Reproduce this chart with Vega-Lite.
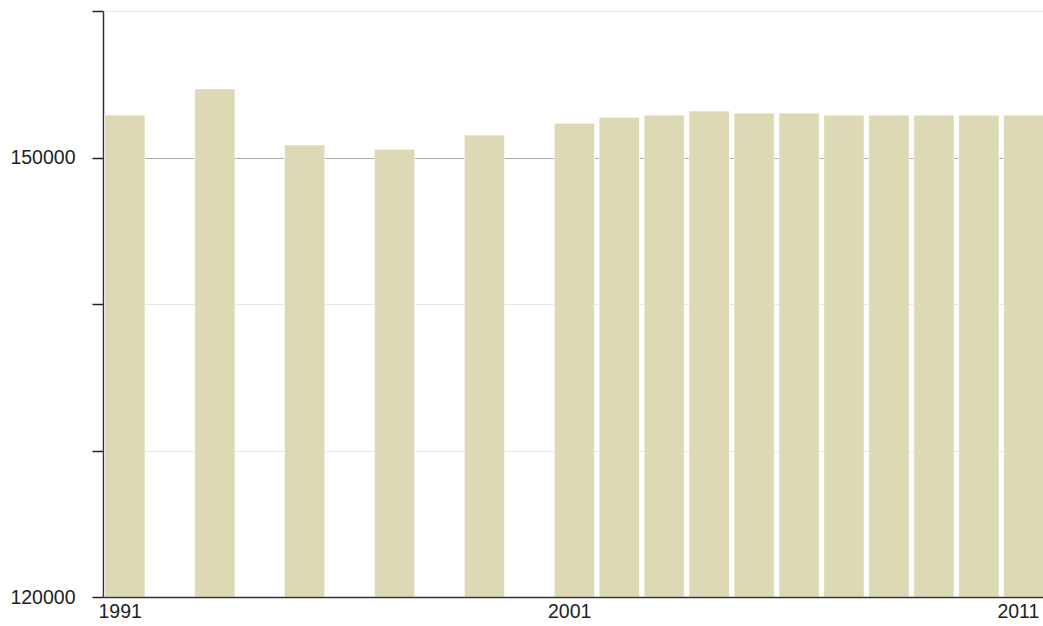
{
  "$schema": "https://vega.github.io/schema/vega-lite/v6.json",
  "autosize": {"type": "none"},
  "padding": {"left": 103, "top": 11, "right": 0, "bottom": 29},
  "width": 940,
  "height": 586,
  "background": "white",
  "config": {"view": {"stroke": null}, "font": "Liberation Sans"},
  "data": {
    "values": [
      {"year": "1991-01-01", "value": 152900},
      {"year": "1993-01-01", "value": 154680},
      {"year": "1995-01-01", "value": 150850},
      {"year": "1997-01-01", "value": 150570},
      {"year": "1999-01-01", "value": 151530},
      {"year": "2001-01-01", "value": 152340},
      {"year": "2002-01-01", "value": 152740},
      {"year": "2003-01-01", "value": 152890},
      {"year": "2004-01-01", "value": 153170},
      {"year": "2005-01-01", "value": 153030},
      {"year": "2006-01-01", "value": 153030},
      {"year": "2007-01-01", "value": 152890},
      {"year": "2008-01-01", "value": 152890},
      {"year": "2009-01-01", "value": 152890},
      {"year": "2010-01-01", "value": 152890},
      {"year": "2011-01-01", "value": 152890}
    ]
  },
  "mark": {
    "type": "bar",
    "color": "#ddd9b4",
    "stroke": "white",
    "strokeWidth": 1,
    "strokeOpacity": 0.6,
    "width": {"band": 0.92},
    "xOffset": -1.1,
    "clip": false
  },
  "encoding": {
    "x": {
      "field": "year",
      "type": "temporal",
      "timeUnit": "utcyear",
      "scale": {
        "type": "utc",
        "domain": [
          {"year": 1991, "month": 1, "date": 1, "utc": true},
          {"year": 2011, "month": 12, "date": 1, "utc": true}
        ],
        "nice": false
      },
      "axis": {
        "title": null,
        "values": [
          {"year": 1991, "month": 1, "date": 1, "utc": true},
          {"year": 2001, "month": 1, "date": 1, "utc": true},
          {"year": 2011, "month": 1, "date": 1, "utc": true}
        ],
        "format": "%Y",
        "formatType": "utc",
        "grid": false,
        "ticks": false,
        "zindex": 1,
        "labelAlign": "left",
        "labelOffset": -5,
        "labelPadding": 5,
        "labelFontSize": 19.5,
        "labelColor": "#222",
        "domainColor": "#333",
        "domainWidth": 1.5
      }
    },
    "y": {
      "field": "value",
      "type": "quantitative",
      "scale": {"domain": [120000, 160000], "nice": false, "zero": false},
      "axis": {
        "title": null,
        "values": [120000, 130000, 140000, 150000, 160000],
        "format": "d",
        "labelExpr": "datum.value === 120000 || datum.value === 150000 ? datum.label : ''",
        "labelFontSize": 19.5,
        "labelColor": "#222",
        "labelPadding": 17,
        "tickSize": 11,
        "tickColor": "#222",
        "tickWidth": 1.5,
        "domainColor": "#333",
        "domainWidth": 1.5,
        "zindex": 0,
        "grid": true,
        "gridColor": {"condition": {"test": "datum.value === 150000", "value": "#aaaaaa"}, "value": "#e6e6e6"},
        "gridWidth": 1
      }
    },
    "y2": {"datum": 120000}
  }
}
